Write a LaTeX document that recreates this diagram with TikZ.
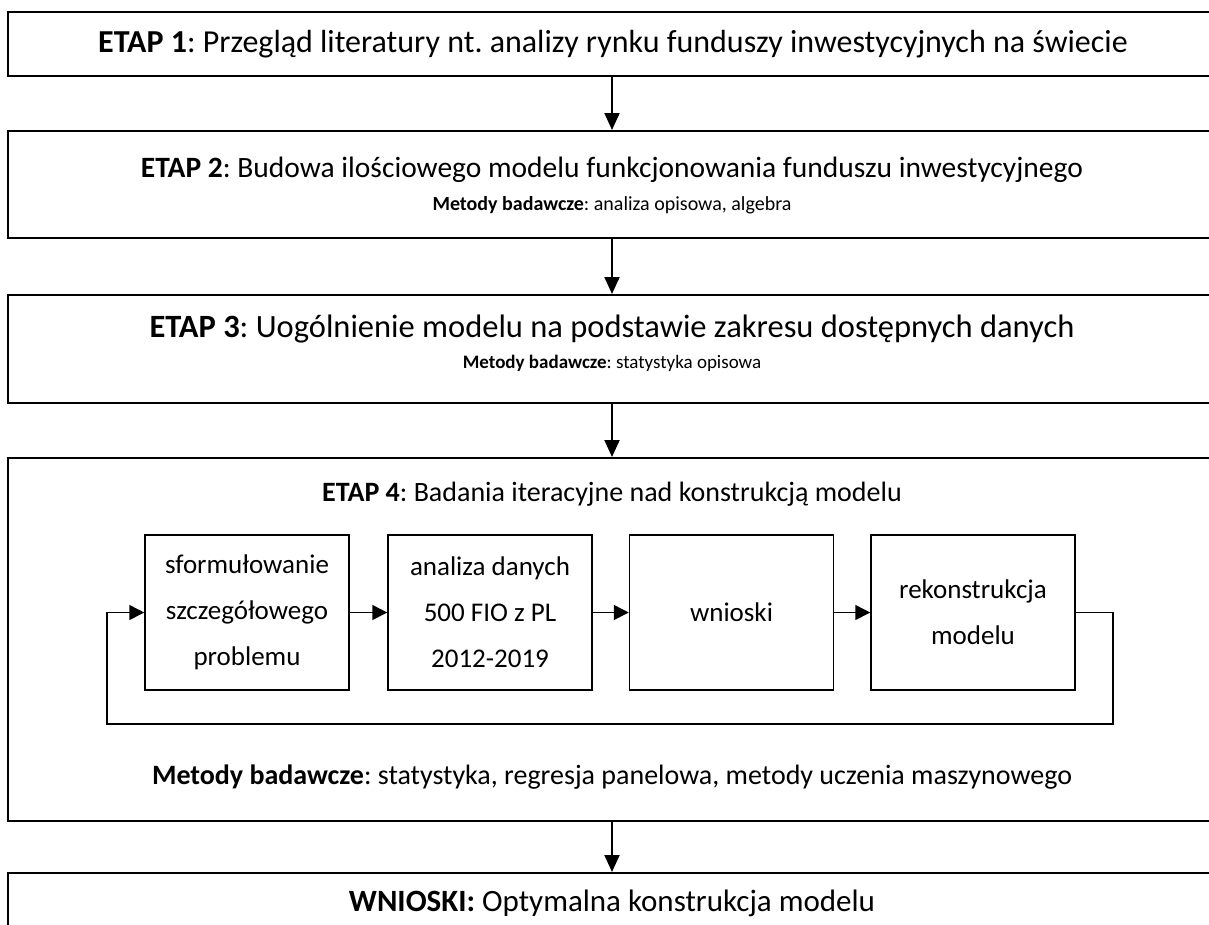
\documentclass[tikz,border=0pt]{standalone}
\usepackage{fontspec}
\setmainfont{Carlito}
\usetikzlibrary{arrows.meta}
\frenchspacing
\begin{document}
\begin{tikzpicture}[x=1pt,y=-1pt,
  stagebox/.style={draw, line width=2pt, minimum width=1208pt, inner sep=0pt},
  subbox/.style={draw, line width=1.5pt, minimum width=204pt, minimum height=155pt,
    inner sep=0pt, align=center, font=\fontsize{27}{46}\selectfont},
  title/.style={inner sep=0pt},
  methods/.style={inner sep=0pt},
  down/.style={line width=2pt, -{Triangle[width=15pt,length=17pt]}},
  flow/.style={line width=1.5pt, -{Triangle[width=15pt,length=15pt]}}]
\useasboundingbox (0,0) rectangle (1209,924);
\clip (0,0) rectangle (1209,924);

% stage frames
\node[stagebox, minimum height=64pt]  (e1) at (612,44) {};
\node[stagebox, minimum height=107pt] (e2) at (612,184.5) {};
\node[stagebox, minimum height=108pt] (e3) at (612,349) {};
\node[stagebox, minimum height=363pt] (e4) at (612,639.5) {};
\node[stagebox, minimum height=120pt] (e5) at (612,933) {};

% stage descriptions
\node[title, font=\fontsize{32}{38}\selectfont] (t1) at (613,44) {\textbf{ETAP 1}: Przegląd literatury nt. analizy rynku funduszy inwestycyjnych na świecie};
\node[title, font=\fontsize{29.5}{36}\selectfont] (t2) at (612,170) {\textbf{ETAP 2}: Budowa ilościowego modelu funkcjonowania funduszu inwestycyjnego};
\node[methods, font=\fontsize{20}{24}\selectfont] (m2) at (612,205) {\textbf{Metody badawcze}: analiza opisowa, algebra};
\node[title, font=\fontsize{32.5}{38}\selectfont] (t3) at (612,329) {\textbf{ETAP 3}: Uogólnienie modelu na podstawie zakresu dostępnych danych};
\node[methods, font=\fontsize{19}{24}\selectfont] (m3) at (612,363) {\textbf{Metody badawcze}: statystyka opisowa};
\node[title, font=\fontsize{28}{34}\selectfont] (t4) at (612,494) {\textbf{ETAP 4}: Badania iteracyjne nad konstrukcją modelu};
\node[methods, font=\fontsize{28}{34}\selectfont] (m4) at (612,777) {\textbf{Metody badawcze}: statystyka, regresja panelowa, metody uczenia maszynowego};
\node[title, font=\fontsize{31}{38}\selectfont] (t5) at (612,903) {\textbf{WNIOSKI:} Optymalna konstrukcja modelu};

% iteration steps
\node[subbox] (a) at (247,612.5) {sformułowanie\\szczegółowego\\problemu};
\node[subbox] (b) at (490,612.5) {analiza danych\\500 FIO z PL\\2012-2019};
\node[subbox] (c) at (731.5,612.5) {wnioski};
\node[subbox] (d) at (973,612.5) {rekonstrukcja\\modelu};

% links between stages
\draw[down] (e1) -- (e2);
\draw[down] (e2) -- (e3);
\draw[down] (e3) -- (e4);
\draw[down] (e4) -- (e5);

% iteration loop
\draw[flow] (a) -- (b);
\draw[flow] (b) -- (c);
\draw[flow] (c) -- (d);
\coordinate (lr) at (1113,724);
\coordinate (ll) at (107,724);
\draw[flow] (d.east) -| (lr) -- (ll) |- (a.west);
\end{tikzpicture}
\end{document}
